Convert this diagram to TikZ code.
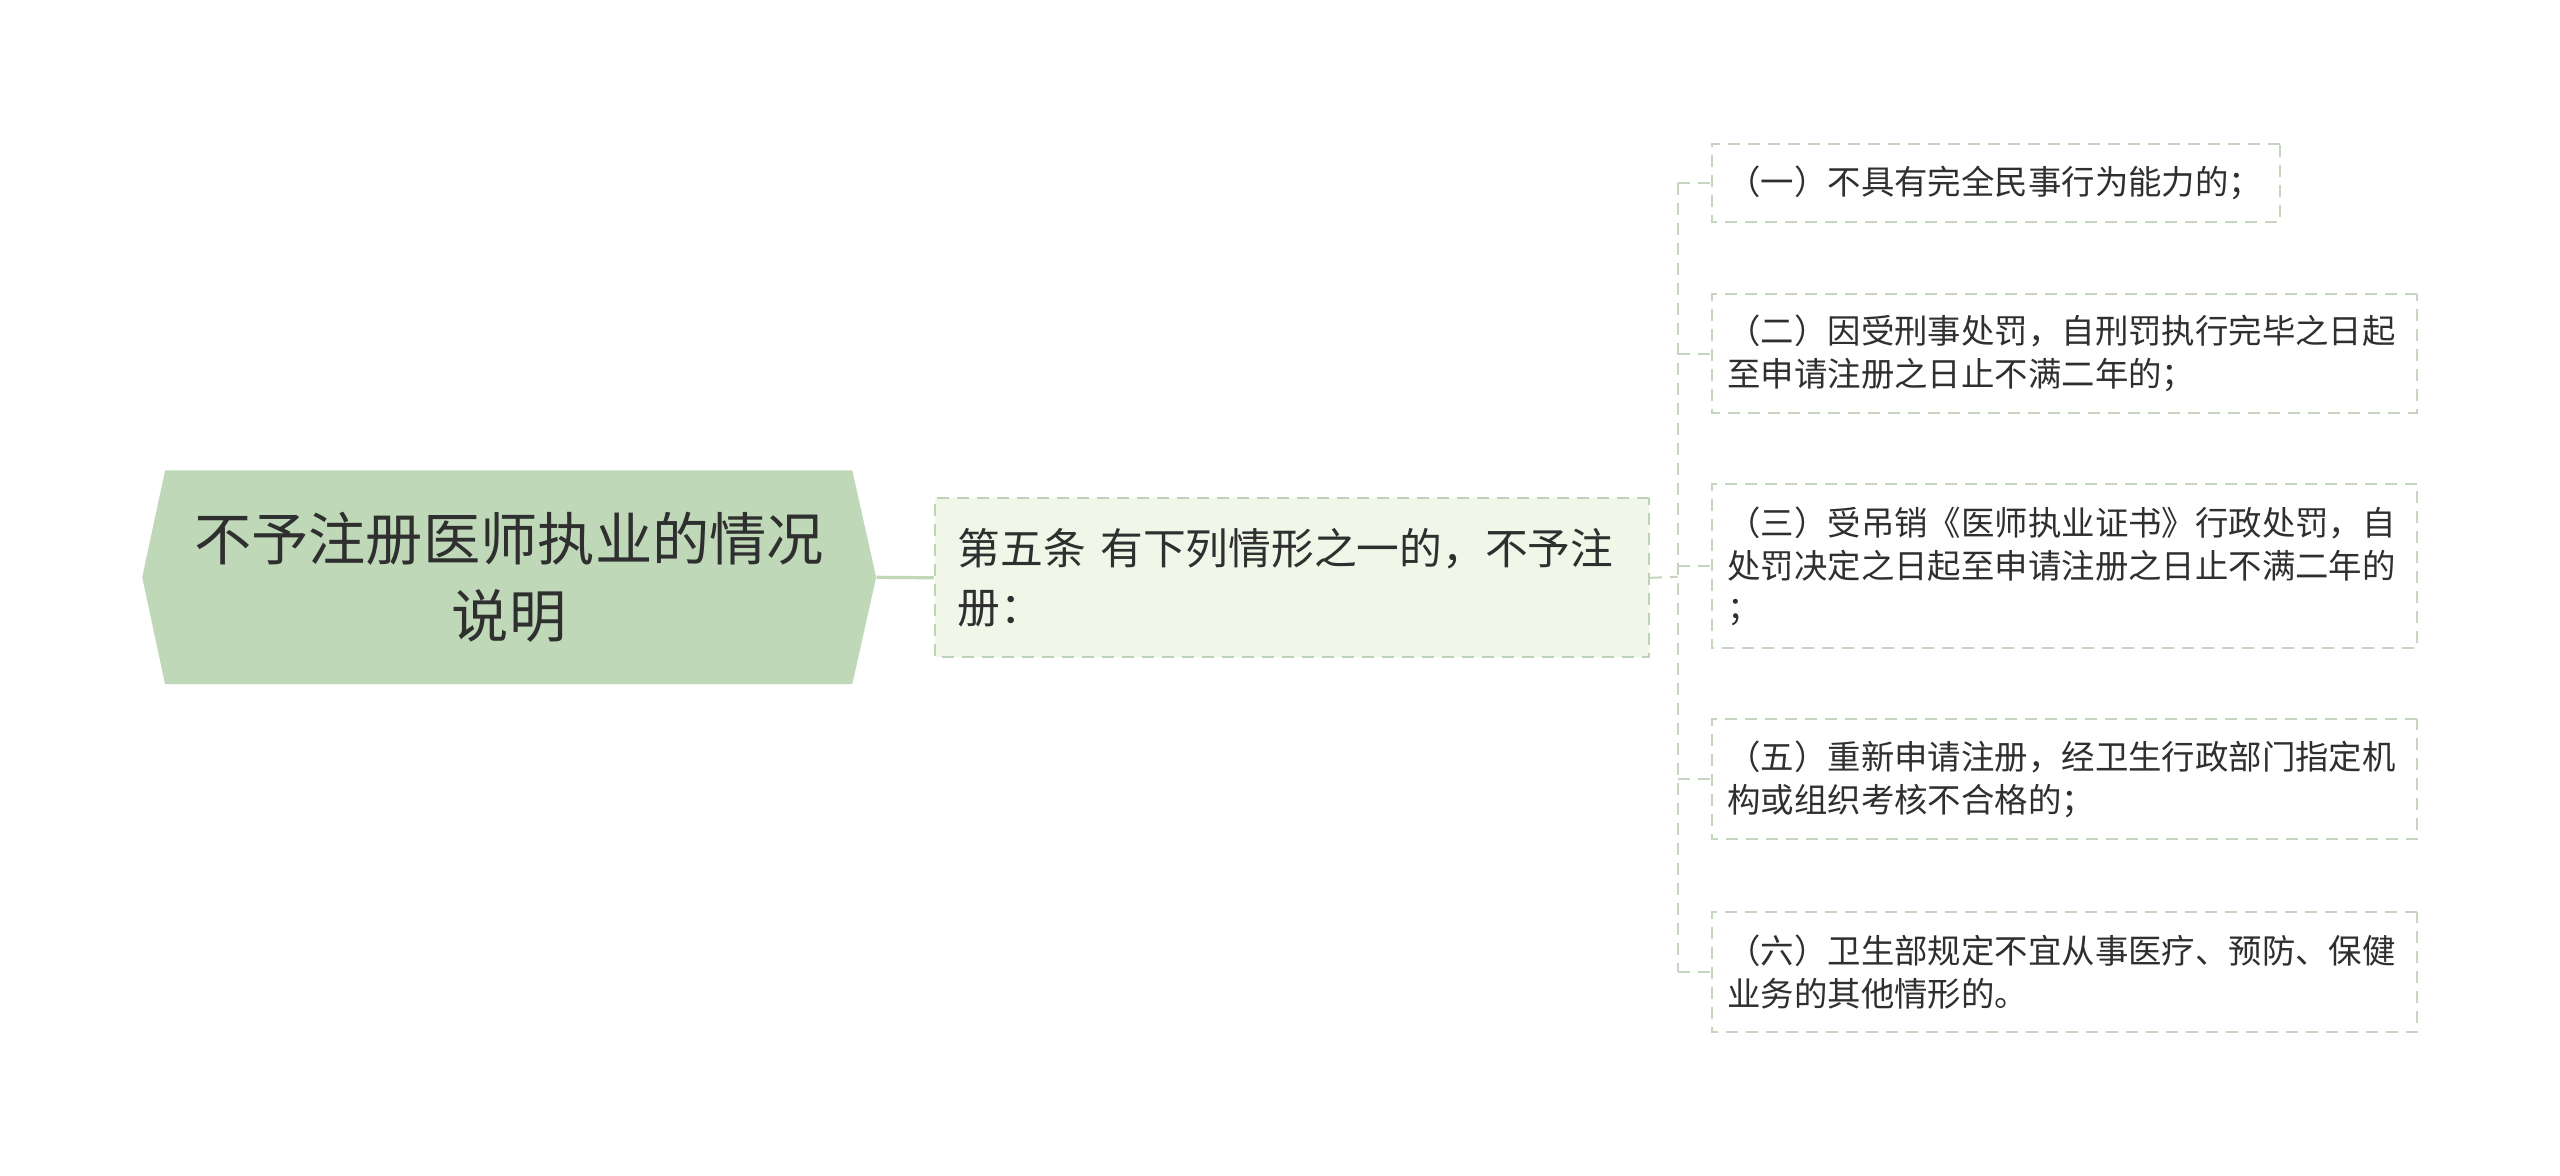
\documentclass[tikz,border=0pt]{standalone}
\usepackage{fontspec}
\newfontfamily\cjk{Noto Sans CJK SC}
\usetikzlibrary{calc}
\definecolor{rootfill}{HTML}{BFD9B8}
\definecolor{nfill}{HTML}{F0F6E8}
\definecolor{nborder}{HTML}{BDD3B5}
\definecolor{cborder}{HTML}{C5D5BF}
\definecolor{txt}{HTML}{2F2F2F}
\tikzset{
  rootnode/.style={inner sep=0pt, minimum width=369pt, minimum height=107.5pt, align=center, text=txt,
    font={\cjk\fontsize{28.8}{39}\selectfont}},
  secnode/.style={draw=nborder, fill=nfill, line width=1pt, dash pattern=on 6pt off 4pt,
    anchor=north west, inner xsep=11.5pt, inner ysep=0pt, minimum width=359pt, minimum height=80pt,
    text width=336pt, align=left, text=txt, font={\cjk\fontsize{21.5}{30}\selectfont}},
  leafnode/.style={draw=cborder, fill=white, line width=1pt, dash pattern=on 6pt off 4pt,
    anchor=north west, inner xsep=8pt, inner ysep=0pt, align=left, text=txt,
    font={\cjk\fontsize{16.8}{21.5}\selectfont}},
  rootline/.style={draw=rootfill, line width=1.6pt},
  busline/.style={draw=cborder, line width=1pt, dash pattern=on 6pt off 4pt}
}
\begin{document}
\begin{tikzpicture}[x=1pt,y=-1pt]
\useasboundingbox (0,0) rectangle (1280,587.5);
\fill[white] (0,0) rectangle (1280,587.5);
\begin{scope}[scale=0.9945, transform shape]
% root hexagon
\fill[rootfill] (71.5,290.25) -- (83,236.5) -- (428.5,236.5) -- (440.5,290.25) -- (428.5,344) -- (83,344) -- cycle;
\node[rootnode] (root) at (256,290.25) {不予注册医师执业的情况\\说明};
% section node
\node[secnode] (n2) at (469.5,250) {第五条 有下列情形之一的，不予注\\册：};
% leaves
\node[leafnode, minimum width=286pt, minimum height=39pt, text width=270pt] (c1) at (860,72) {（一）不具有完全民事行为能力的；};
\node[leafnode, minimum width=354.5pt, minimum height=59.5pt, text width=338.5pt] (c2) at (860,147.5) {（二）因受刑事处罚，自刑罚执行完毕之日起\\至申请注册之日止不满二年的；};
\node[leafnode, minimum width=354.5pt, minimum height=82.5pt, text width=338.5pt] (c3) at (860,243) {（三）受吊销《医师执业证书》行政处罚，自\\处罚决定之日起至申请注册之日止不满二年的\\；};
\node[leafnode, minimum width=354.5pt, minimum height=60.5pt, text width=338.5pt] (c4) at (860,361) {（五）重新申请注册，经卫生行政部门指定机\\构或组织考核不合格的；};
\node[leafnode, minimum width=354.5pt, minimum height=60.5pt, text width=338.5pt] (c5) at (860,458) {（六）卫生部规定不宜从事医疗、预防、保健\\业务的其他情形的。};
% connectors
\draw[rootline] (root.east) -- (n2.west);
\coordinate (bus) at (843.5,290);
\draw[busline] (n2.east) -- (bus);
\draw[busline] (bus |- c1.west) -- (bus |- c5.west);
\foreach \c in {c1,c2,c3,c4,c5} {
  \draw[busline] (bus |- \c.west) -- (\c.west);
}
\end{scope}
\end{tikzpicture}
\end{document}
